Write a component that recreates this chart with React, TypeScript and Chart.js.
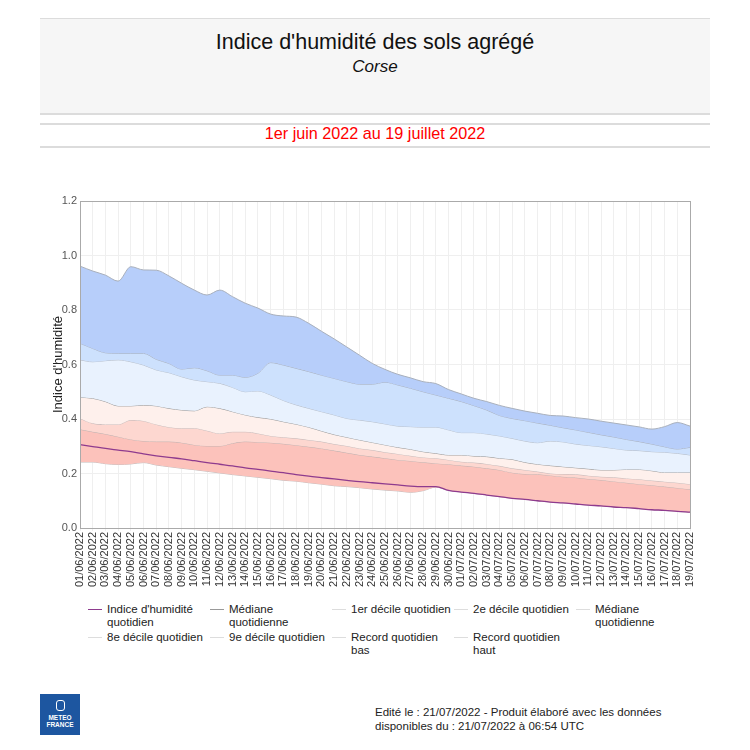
import React, { useEffect, useRef } from "react";
import { Chart, registerables } from "chart.js";

Chart.register(...registerables);

const dates = [
  "01/06/2022","02/06/2022","03/06/2022","04/06/2022","05/06/2022","06/06/2022","07/06/2022","08/06/2022","09/06/2022","10/06/2022",
  "11/06/2022","12/06/2022","13/06/2022","14/06/2022","15/06/2022","16/06/2022","17/06/2022","18/06/2022","19/06/2022","20/06/2022",
  "21/06/2022","22/06/2022","23/06/2022","24/06/2022","25/06/2022","26/06/2022","27/06/2022","28/06/2022","29/06/2022","30/06/2022",
  "01/07/2022","02/07/2022","03/07/2022","04/07/2022","05/07/2022","06/07/2022","07/07/2022","08/07/2022","09/07/2022","10/07/2022",
  "11/07/2022","12/07/2022","13/07/2022","14/07/2022","15/07/2022","16/07/2022","17/07/2022","18/07/2022","19/07/2022",
];

const indice = [
  0.306, 0.299, 0.292, 0.286, 0.28, 0.272, 0.265, 0.259, 0.254, 0.247,
  0.24, 0.234, 0.228, 0.221, 0.215, 0.209, 0.203, 0.196, 0.19, 0.185,
  0.18, 0.175, 0.17, 0.166, 0.162, 0.158, 0.154, 0.152, 0.152, 0.138,
  0.132, 0.127, 0.121, 0.115, 0.109, 0.105, 0.1, 0.095, 0.092, 0.088,
  0.084, 0.081, 0.077, 0.075, 0.071, 0.067, 0.065, 0.061, 0.058,
];

const recordBas = [
  0.242, 0.242, 0.236, 0.233, 0.235, 0.24, 0.231, 0.225, 0.219, 0.214,
  0.208, 0.202, 0.196, 0.191, 0.186, 0.181, 0.175, 0.172, 0.166, 0.161,
  0.155, 0.152, 0.148, 0.143, 0.139, 0.136, 0.131, 0.137, 0.15, 0.138,
  0.132, 0.127, 0.121, 0.115, 0.109, 0.105, 0.1, 0.095, 0.092, 0.088,
  0.084, 0.081, 0.077, 0.075, 0.071, 0.067, 0.065, 0.061, 0.058,
];

const decile1 = [
  0.362, 0.353, 0.345, 0.335, 0.325, 0.319, 0.317, 0.317, 0.313, 0.305,
  0.301, 0.301, 0.311, 0.317, 0.315, 0.313, 0.309, 0.304, 0.298, 0.292,
  0.284, 0.276, 0.268, 0.262, 0.256, 0.25, 0.246, 0.241, 0.237, 0.234,
  0.229, 0.225, 0.219, 0.213, 0.203, 0.198, 0.197, 0.193, 0.188, 0.185,
  0.18, 0.176, 0.171, 0.166, 0.161, 0.157, 0.152, 0.147, 0.142,
];

const decile2 = [
  0.402, 0.384, 0.38, 0.38, 0.396, 0.393, 0.38, 0.37, 0.366, 0.366,
  0.357, 0.347, 0.353, 0.353, 0.347, 0.338, 0.333, 0.329, 0.323, 0.317,
  0.308, 0.301, 0.292, 0.286, 0.278, 0.272, 0.265, 0.259, 0.256, 0.25,
  0.243, 0.24, 0.235, 0.228, 0.219, 0.213, 0.207, 0.2, 0.198, 0.197,
  0.192, 0.188, 0.186, 0.182, 0.179, 0.174, 0.17, 0.166, 0.161,
];

const mediane = [
  0.48, 0.476, 0.464, 0.448, 0.448, 0.451, 0.448, 0.439, 0.433, 0.43,
  0.445, 0.439, 0.427, 0.415, 0.406, 0.4, 0.39, 0.381, 0.37, 0.356,
  0.343, 0.333, 0.323, 0.314, 0.305, 0.296, 0.289, 0.28, 0.274, 0.268,
  0.268, 0.264, 0.262, 0.256, 0.252, 0.241, 0.234, 0.229, 0.225, 0.221,
  0.217, 0.213, 0.213, 0.215, 0.215, 0.21, 0.204, 0.204, 0.204,
];

const decile8 = [
  0.617, 0.61, 0.614, 0.617, 0.61, 0.598, 0.58, 0.57, 0.555, 0.543,
  0.537, 0.531, 0.516, 0.5, 0.503, 0.488, 0.468, 0.452, 0.439, 0.427,
  0.415, 0.402, 0.396, 0.39, 0.382, 0.374, 0.372, 0.37, 0.37, 0.36,
  0.35, 0.35, 0.345, 0.338, 0.329, 0.319, 0.313, 0.319, 0.316, 0.308,
  0.303, 0.298, 0.292, 0.286, 0.284, 0.28, 0.278, 0.274, 0.268,
];

const decile9 = [
  0.678, 0.659, 0.643, 0.641, 0.641, 0.641, 0.619, 0.604, 0.583, 0.588,
  0.577, 0.561, 0.561, 0.553, 0.568, 0.607, 0.598, 0.586, 0.574, 0.561,
  0.549, 0.537, 0.528, 0.528, 0.535, 0.525, 0.513, 0.5, 0.488, 0.476,
  0.464, 0.449, 0.433, 0.413, 0.402, 0.394, 0.385, 0.377, 0.368, 0.36,
  0.351, 0.342, 0.334, 0.325, 0.317, 0.308, 0.298, 0.29, 0.296,
];

const recordHaut = [
  0.961, 0.943, 0.928, 0.906, 0.959, 0.947, 0.946, 0.925, 0.898, 0.873,
  0.855, 0.873, 0.849, 0.825, 0.807, 0.785, 0.778, 0.774, 0.751, 0.722,
  0.694, 0.664, 0.634, 0.604, 0.582, 0.564, 0.551, 0.537, 0.53, 0.508,
  0.492, 0.476, 0.464, 0.45, 0.439, 0.429, 0.421, 0.413, 0.411, 0.405,
  0.4, 0.392, 0.385, 0.378, 0.371, 0.363, 0.372, 0.387, 0.374,
];

const yTicks = [0, 0.2, 0.4, 0.6, 0.8, 1.0, 1.2];

const FONT = "'Liberation Sans', Arial, sans-serif";

const legendRow1 = [
  { text: ["Indice d'humidité", "quotidien"], color: "#8e3b8e" },
  { text: ["Médiane", "quotidienne"], color: "#999999" },
  { text: ["1er décile quotidien"], color: "#dddddd" },
  { text: ["2e décile quotidien"], color: "#dddddd" },
  { text: ["Médiane", "quotidienne"], color: "#dddddd" },
];
const legendRow2 = [
  { text: ["8e décile quotidien"], color: "#dddddd" },
  { text: ["9e décile quotidien"], color: "#dddddd" },
  { text: ["Record quotidien", "bas"], color: "#dddddd" },
  { text: ["Record quotidien", "haut"], color: "#dddddd" },
];

const framePlugin = {
  id: "frame",
  afterDatasetsDraw(chart: any) {
    const { ctx, chartArea } = chart;
    ctx.save();
    ctx.strokeStyle = "#aaaaaa";
    ctx.lineWidth = 1;
    ctx.strokeRect(
      Math.round(chartArea.left) + 0.5,
      Math.round(chartArea.top) + 0.5,
      Math.round(chartArea.right - chartArea.left),
      Math.round(chartArea.bottom - chartArea.top)
    );
    ctx.restore();
  },
};

function ChartCanvas() {
  const ref = useRef<HTMLCanvasElement | null>(null);
  useEffect(() => {
    if (!ref.current) return;
    const common = {
      pointRadius: 0,
      pointHoverRadius: 0,
      borderWidth: 1,
      cubicInterpolationMode: "monotone" as const,
    };
    const chart = new Chart(ref.current, {
      type: "line",
      data: {
        labels: dates,
        datasets: [
          { ...common, label: "Indice d'humidité quotidien", data: indice, borderColor: "#8e3b8e", borderWidth: 1.3, fill: false },
          { ...common, label: "Record quotidien haut", data: recordHaut, borderColor: "#a9b0bc", backgroundColor: "#b7cefa", fill: { target: 2 } },
          { ...common, label: "9e décile quotidien", data: decile9, borderColor: "#a9b2c1", backgroundColor: "#cde1fd", fill: { target: 3 } },
          { ...common, label: "8e décile quotidien", data: decile8, borderColor: "#b7bfcb", backgroundColor: "#e9f2fe", fill: { target: 4 } },
          { ...common, label: "Médiane quotidienne", data: mediane, borderColor: "#999999", backgroundColor: "#fef0ec", fill: { target: 5 } },
          { ...common, label: "2e décile quotidien", data: decile2, borderColor: "#c6baba", backgroundColor: "#fdd7d0", fill: { target: 6 } },
          { ...common, label: "1er décile quotidien", data: decile1, borderColor: "#c2b2b0", backgroundColor: "#fcc2bb", fill: { target: 7 } },
          { ...common, label: "Record quotidien bas", data: recordBas, borderColor: "#c6bebe", fill: false },
        ],
      },
      options: {
        animation: false,
        responsive: false,
        maintainAspectRatio: false,
        layout: { padding: { left: 47, right: 60, top: 41, bottom: 10 } },
        plugins: {
          legend: { display: false },
          tooltip: { enabled: false },
          filler: { propagate: false },
        },
        scales: {
          x: {
            border: { display: false },
            grid: { color: "#efefef", tickLength: 3, drawTicks: true },
            ticks: {
              autoSkip: false,
              maxRotation: 90,
              minRotation: 90,
              color: "#333333",
              padding: 1,
              font: { family: FONT, size: 11 },
            },
            afterFit(scale: any) {
              scale.height = 62;
            },
          },
          y: {
            min: 0,
            max: 1.2,
            border: { display: false },
            grid: { color: "#efefef", drawTicks: false },
            afterBuildTicks(scale: any) {
              scale.ticks = yTicks.map((v) => ({ value: v }));
            },
            ticks: {
              color: "#555555",
              padding: 3,
              font: { family: FONT, size: 11 },
              callback: (v: any) => Number(v).toFixed(1),
            },
            title: {
              display: true,
              text: "Indice d'humidité",
              color: "#222222",
              font: { family: FONT, size: 13 },
              padding: { top: 4, bottom: 4 },
            },
            afterFit(scale: any) {
              scale.width = 33;
            },
          },
        },
      },
      plugins: [framePlugin],
    });
    return () => chart.destroy();
  }, []);
  return <canvas ref={ref} width={750} height={440} style={{ display: "block", width: 750, height: 440 }} />;
}

function LegendItem({ text, color }: { text: string[]; color: string }) {
  return (
    <div style={{ display: "flex", alignItems: "flex-start", width: 122 }}>
      <div style={{ width: 14, height: 0, borderTop: `1.5px solid ${color}`, marginTop: 6, marginRight: 5, flexShrink: 0 }} />
      <div style={{ fontSize: 11.5, lineHeight: "13px", color: "#222" }}>
        {text.map((t, i) => (
          <div key={i}>{t}</div>
        ))}
      </div>
    </div>
  );
}

export default function App() {
  return (
    <div style={{ position: "absolute", left: 0, top: 0, width: 750, height: 750, background: "#fff", fontFamily: FONT, overflow: "hidden" }}>
      <div
        style={{
          position: "absolute", left: 40, top: 18, width: 670, height: 94,
          background: "#f6f6f6", borderTop: "1px solid #dcdcdc", borderBottom: "2px solid #dcdcdc",
        }}
      >
        <div style={{ position: "absolute", left: 0, right: 0, top: 11, textAlign: "center", fontSize: 21.5, color: "#111" }}>
          Indice d'humidité des sols agrégé
        </div>
        <div style={{ position: "absolute", left: 0, right: 0, top: 38, textAlign: "center", fontSize: 17, fontStyle: "italic", color: "#111" }}>
          Corse
        </div>
      </div>
      <div style={{ position: "absolute", left: 40, top: 123, width: 670, height: 2, background: "#dcdcdc" }} />
      <div style={{ position: "absolute", left: 0, width: 750, top: 124, textAlign: "center", fontSize: 16.2, color: "#ff0000" }}>
        1er juin 2022 au 19 juillet 2022
      </div>
      <div style={{ position: "absolute", left: 40, top: 146, width: 670, height: 2, background: "#dcdcdc" }} />

      <div style={{ position: "absolute", left: 0, top: 160 }}>
        <ChartCanvas />
      </div>

      <div style={{ position: "absolute", left: 88, top: 603 }}>
        <div style={{ display: "flex" }}>
          {legendRow1.map((it, i) => (
            <LegendItem key={i} text={it.text} color={it.color} />
          ))}
        </div>
        <div style={{ display: "flex", marginTop: 2 }}>
          {legendRow2.map((it, i) => (
            <LegendItem key={i} text={it.text} color={it.color} />
          ))}
        </div>
      </div>

      <div
        style={{
          position: "absolute", left: 40, top: 694, width: 40, height: 41, background: "#1d56a0",
          color: "#fff", textAlign: "center", fontWeight: "bold", fontSize: 6.5, lineHeight: "7px",
        }}
      >
        <div style={{ margin: "6px auto 3px", width: 9, height: 11, border: "1.5px solid #fff", borderRadius: 3, boxSizing: "border-box" }} />
        <div>METEO</div>
        <div>FRANCE</div>
      </div>

      <div style={{ position: "absolute", left: 375, top: 706, fontSize: 11.5, lineHeight: "13.5px", color: "#222" }}>
        <div>Edité le : 21/07/2022 - Produit élaboré avec les données</div>
        <div>disponibles du : 21/07/2022 à 06:54 UTC</div>
      </div>
    </div>
  );
}
